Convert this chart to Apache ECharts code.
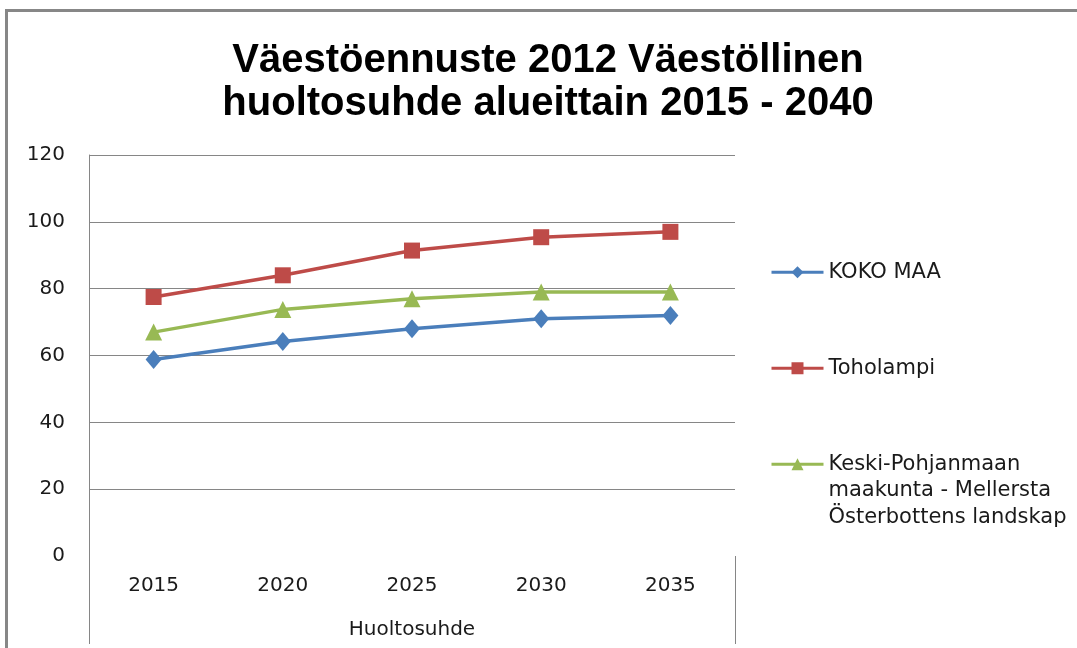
<!DOCTYPE html>
<html>
<head>
<meta charset="utf-8">
<script src="https://cdn.jsdelivr.net/npm/echarts@6/dist/echarts.min.js"></script>
<style>
  html, body { margin: 0; padding: 0; background: #fff; }
  #chart { width: 1077px; height: 648px; }
</style>
</head>
<body>
<div id="chart"></div>
<script>
// ---- data ----
var categories = ['2015', '2020', '2025', '2030', '2035'];
var kokoMaa = [58.8, 64.2, 68.0, 71.0, 72.0];
var toholampi = [77.5, 84.0, 91.4, 95.4, 97.0];
var keskiPohjanmaa = [67.0, 73.8, 77.0, 79.0, 79.0];
var seriesNames = ['KOKO MAA', 'Toholampi', 'Keski-Pohjanmaan\nmaakunta - Mellersta\nÖsterbottens landskap'];
var yTicks = { min: 0, max: 120, interval: 20 };
var axisName = 'Huoltosuhde';
var titleText = 'Väestöennuste 2012 Väestöllinen\nhuoltosuhde alueittain 2015 - 2040';

// ---- style ----
var colors = ['#4A7EBB', '#BE4B48', '#98B954'];
var gridLeft = 89, gridRight = 342, gridTop = 155, gridBottom = 92;
var axisGray = '#868686';
var labelFont = { fontFamily: 'DejaVu Sans', fontSize: 20, color: '#1a1a1a' };

var chart = echarts.init(document.getElementById('chart'), null, { renderer: 'canvas' });

function legendFor(i, top, formatter) {
  var l = {
    data: [seriesNames[i]],
    orient: 'vertical',
    left: 770,
    top: top,
    padding: 0,
    itemWidth: 52,
    itemHeight: 15,
    itemGap: 0,
    lineStyle: { width: 3 },
    textStyle: { fontFamily: 'DejaVu Sans', fontSize: 21, color: '#1a1a1a', lineHeight: 26.5 }
  };
  if (formatter) l.formatter = formatter;
  return l;
}

var option = {
  animation: false,
  backgroundColor: '#fff',
  title: {
    text: titleText,
    left: 548,
    top: 39,
    padding: 0,
    textAlign: 'center',
    textStyle: {
      fontFamily: 'Liberation Sans',
      fontWeight: 'bold',
      fontSize: 40,
      lineHeight: 43,
      color: '#000'
    }
  },
  legend: [
    legendFor(0, 259),
    legendFor(1, 355),
    // two leading blank lines keep the marker level with the first text line
    legendFor(2, 398, function (name) { return '\n\n' + name; })
  ],
  grid: { left: gridLeft, right: gridRight, top: gridTop, bottom: gridBottom, containLabel: false },
  xAxis: {
    type: 'category',
    data: categories,
    boundaryGap: true,
    axisLine: { show: false },
    axisTick: { show: false },
    axisLabel: { margin: 20, fontFamily: labelFont.fontFamily, fontSize: labelFont.fontSize, color: labelFont.color },
    name: axisName,
    nameLocation: 'middle',
    nameGap: 64,
    nameTextStyle: { fontFamily: 'DejaVu Sans', fontSize: 20, color: '#1a1a1a' },
    splitLine: { show: false }
  },
  yAxis: {
    type: 'value',
    min: yTicks.min,
    max: yTicks.max,
    interval: yTicks.interval,
    axisLine: { show: true, lineStyle: { color: axisGray, width: 1 } },
    axisTick: { show: false },
    axisLabel: { margin: 24, fontFamily: labelFont.fontFamily, fontSize: labelFont.fontSize, color: labelFont.color },
    splitLine: { show: true, showMinLine: false, lineStyle: { color: axisGray, width: 1 } }
  },
  series: [
    {
      name: seriesNames[0], type: 'line', data: kokoMaa,
      symbol: 'diamond', symbolSize: [16, 19],
      lineStyle: { width: 3.5, color: colors[0] },
      itemStyle: { color: colors[0] }
    },
    {
      name: seriesNames[1], type: 'line', data: toholampi,
      symbol: 'rect', symbolSize: 16,
      lineStyle: { width: 3.5, color: colors[1] },
      itemStyle: { color: colors[1] }
    },
    {
      name: seriesNames[2], type: 'line', data: keskiPohjanmaa,
      symbol: 'triangle', symbolSize: 17,
      lineStyle: { width: 3.5, color: colors[2] },
      itemStyle: { color: colors[2] }
    }
  ]
};

chart.setOption(option);

// decorative frame lines (axis bracket and chart-area border)
var W = chart.getWidth(), H = chart.getHeight();
var xL = gridLeft, xR = W - gridRight;
var yZero = chart.convertToPixel({ yAxisIndex: 0 }, yTicks.min);
var yEnd = H - 4;
chart.setOption({
  graphic: [
    { type: 'line', shape: { x1: xL + 0.5, y1: yZero, x2: xL + 0.5, y2: yEnd }, style: { stroke: axisGray, lineWidth: 1 }, silent: true },
    { type: 'line', shape: { x1: xR + 0.5, y1: yZero, x2: xR + 0.5, y2: yEnd }, style: { stroke: axisGray, lineWidth: 1 }, silent: true },
    { type: 'rect', shape: { x: 6.5, y: 10.5, width: W + 50, height: H + 50 }, style: { fill: 'none', stroke: '#878787', lineWidth: 3 }, silent: true }
  ]
});
</script>
</body>
</html>
